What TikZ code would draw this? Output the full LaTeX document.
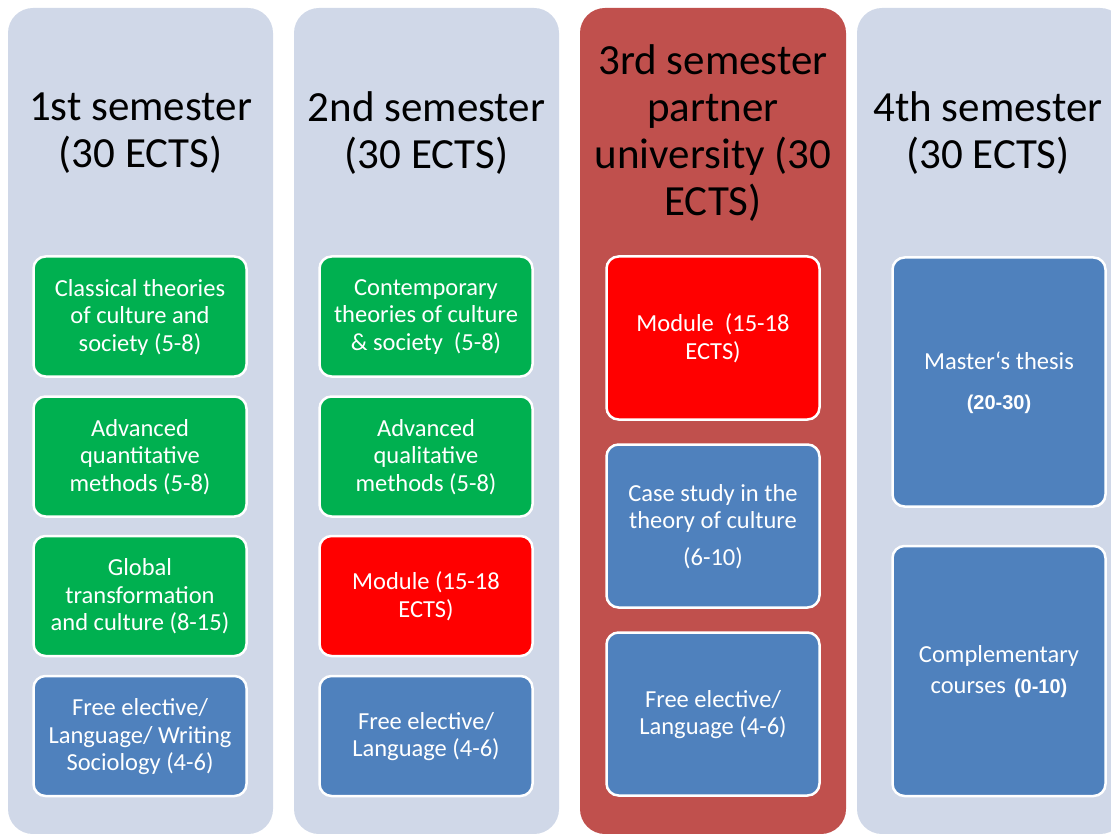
\documentclass[tikz,border=0pt]{standalone}
\usepackage{fontspec}
\setmainfont{Carlito}
\newfontfamily\arialbold{Liberation Sans}[BoldFont=* Bold]
\definecolor{colbg}{HTML}{D0D8E8}
\definecolor{colred}{HTML}{C0504D}
\definecolor{boxgreen}{HTML}{00B050}
\definecolor{boxred}{HTML}{FF0000}
\definecolor{boxblue}{HTML}{4F81BD}
\newcommand{\boldnum}[1]{{\arialbold\bfseries\fontsize{20}{22}\selectfont #1}}
\tikzset{
  column/.style={rounded corners=25pt},
  title/.style={align=center, text=black, font=\fontsize{43}{47}\selectfont, inner sep=0pt},
  course/.style={draw=white, line width=2.5pt, rounded corners=12pt, text=white,
    align=center, minimum width=213pt, inner sep=0pt, text depth=3pt,
    font=\fontsize{24.5}{27.5}\selectfont},
  green/.style={course, fill=boxgreen},
  redbox/.style={course, fill=boxred},
  bluebox/.style={course, fill=boxblue},
}
\begin{document}
\begin{tikzpicture}[x=1pt,y=-1pt]
\useasboundingbox (0,0) rectangle (1111,834);
\clip (0,0) rectangle (1111,834);
% columns
\fill[colbg, column] (8,8) rectangle (273,834);
\fill[colbg, column] (294,8) rectangle (559,834);
\fill[colred, column] (580,8) rectangle (846,834);
\fill[colbg, column] (857,8) rectangle (1125,834);
% titles
\node[title] (t1) at (140.5,133) {1st semester\\(30 ECTS)};
\node[title] (t2) at (426.5,133) {2nd semester\\(30 ECTS)};
\node[title] (t3) at (713,133) {3rd semester\\partner\\university (30\\ECTS)};
\node[title] (t4) at (988,133) {4th semester\\(30 ECTS)};
% column 1
\node[green, minimum height=120pt] (a1) at (140,316.5) {Classical theories\\of culture and\\society (5-8)};
\node[green, minimum height=120pt] (a2) at (140,456.5) {Advanced\\quantitative\\methods (5-8)};
\node[green, minimum height=120pt] (a3) at (140,596) {Global\\transformation\\and culture (8-15)};
\node[bluebox, minimum height=120pt] (a4) at (140,736) {Free elective/\\Language/ Writing\\Sociology (4-6)};
% column 2
\node[green, minimum height=120pt] (b1) at (426,316.5) {Contemporary\\theories of culture\\\&\ society\ \ (5-8)};
\node[green, minimum height=120pt] (b2) at (426,456.5) {Advanced\\qualitative\\methods (5-8)};
\node[redbox, minimum height=120pt] (b3) at (426,596) {Module (15-18\\ECTS)};
\node[bluebox, minimum height=120pt] (b4) at (426,736) {Free elective/\\Language (4-6)};
% column 3
\node[redbox, minimum height=163pt] (c1) at (713,338) {Module\ \ (15-18\\ECTS)};
\node[bluebox, minimum height=163pt] (c2) at (713,526) {Case study in the\\theory of culture\\[9pt](6-10)};
\node[bluebox, minimum height=163pt] (c3) at (713,714) {Free elective/\\Language (4-6)};
% column 4
\node[bluebox, minimum height=249pt] (d1) at (999,382) {Master‘s thesis\\[13pt]\boldnum{(20-30)}};
\node[bluebox, minimum height=250pt] (d2) at (999,671) {Complementary\\[3pt]courses\hspace{8pt}\boldnum{(0-10)}};
\end{tikzpicture}
\end{document}
